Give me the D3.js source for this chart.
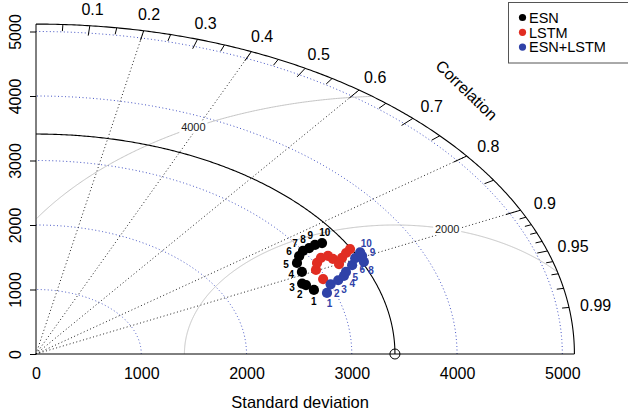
<!DOCTYPE html>
<html><head><meta charset="utf-8">
<script src="https://cdn.jsdelivr.net/npm/d3@7"></script>
<style>
body{margin:0;background:#fff}
svg{display:block}
text{font-family:"Liberation Sans",Arial,Helvetica,sans-serif}
</style>
</head><body>
<svg id="chart" width="628" height="415"></svg>
<script>
// ---------------- data ----------------
const seriesNames = ["ESN", "LSTM", "ESN+LSTM"];
const pointLabels = ["1","2","3","4","5","6","7","8","9","10"];
const esnSD    = [2821, 2779, 2754, 2829, 2853, 2924, 2998, 3071, 3144, 3216];
const esnCor   = [0.936, 0.923, 0.918, 0.893, 0.869, 0.855, 0.846, 0.845, 0.843, 0.845];
const lstmSD   = [2965, 2962, 3020, 3090, 3163, 3183, 3199, 3266, 3336, 3398];
const lstmCor  = [0.920, 0.898, 0.884, 0.876, 0.877, 0.886, 0.900, 0.890, 0.883, 0.878];
const hybSD    = [2922, 3000, 3090, 3166, 3208, 3304, 3377, 3427, 3450, 3460];
const hybCor   = [0.946, 0.933, 0.929, 0.924, 0.918, 0.909, 0.898, 0.909, 0.898, 0.890];
const refSD = 3410;
const sdTicks = [0, 1000, 2000, 3000, 4000, 5000];
const corLabels = [0.1, 0.2, 0.3, 0.4, 0.5, 0.6, 0.7, 0.8, 0.9, 0.95, 0.99];
const radialCors = [0.2, 0.4, 0.6, 0.8, 0.9];
const bigTickCors = [0.1, 0.2, 0.3, 0.4, 0.5, 0.6, 0.7, 0.8, 0.9];
const medTickCors = [0.05, 0.15, 0.25, 0.35, 0.45, 0.55, 0.65, 0.75, 0.85, 0.95];
const smlTickCors = [0.91, 0.92, 0.93, 0.94, 0.96, 0.97, 0.98, 0.99];
const gammaLevels = [2000, 4000];

// ---------------- setup ----------------
const colors = ["#000000", "#e12d22", "#2f42a8"];
const maxsd = 1.5 * refSD;
const svg = d3.select("#chart");
const x = d3.scaleLinear().domain([0, 5000]).range([36, 562.3]);
const y = d3.scaleLinear().domain([0, 5000]).range([354, 31.5]);
const P = (sx, sy) => [x(sx), y(sy)];
const polar = (r, c) => P(r * c, r * Math.sqrt(1 - c * c));
const line = d3.line();
const FS = 16;

function quarterArc(r) {
  const a = d3.range(0, Math.PI / 2, 0.005).concat([Math.PI / 2]);
  return line(a.map(t => P(r * Math.cos(t), r * Math.sin(t))));
}

// sd arcs (blue dotted)
svg.append("g").selectAll("path").data(sdTicks.filter(d => d > 0)).join("path")
  .attr("d", d => quarterArc(d)).attr("fill", "none")
  .attr("stroke", "#4252c4").attr("stroke-width", 1).attr("stroke-dasharray", "1,2.5");

// radial correlation lines
svg.append("g").selectAll("line").data(radialCors).join("line")
  .attr("x1", x(0)).attr("y1", y(0))
  .attr("x2", d => polar(maxsd, d)[0]).attr("y2", d => polar(maxsd, d)[1])
  .attr("stroke", "#222").attr("stroke-width", 1).attr("stroke-dasharray", "1,2.5");

// gamma (centered RMS) contours
const gG = svg.append("g");
gammaLevels.forEach((g, gi) => {
  const ang = d3.range(0, Math.PI, 0.004);
  const pts = ang.map(t => [refSD + g * Math.cos(t), g * Math.sin(t)])
    .filter(p => p[0] >= 0 && p[0] * p[0] + p[1] * p[1] <= maxsd * maxsd);
  gG.append("path").attr("d", line(pts.map(p => P(p[0], p[1]))))
    .attr("fill", "none").attr("stroke", "#c4c4c4").attr("stroke-width", 1);
  const idx = gammaLevels.length > 1 ? 45 + (70 - 45) * gi / (gammaLevels.length - 1) : 45;
  const t = (idx - 1) * 0.03;
  const lp = P(refSD + g * Math.cos(t), g * Math.sin(t));
  gG.append("rect").attr("x", lp[0] - 14).attr("y", lp[1] - 6).attr("width", 28).attr("height", 12).attr("fill", "#fff");
  gG.append("text").attr("x", lp[0]).attr("y", lp[1]).attr("dy", "0.36em")
    .attr("text-anchor", "middle").attr("font-size", 11).attr("fill", "#222").text(g);
});

// outer arc, reference arc
svg.append("path").attr("d", quarterArc(maxsd)).attr("fill", "none").attr("stroke", "#000").attr("stroke-width", 1.1);
svg.append("path").attr("d", quarterArc(refSD)).attr("fill", "none").attr("stroke", "#000").attr("stroke-width", 1.1);

// correlation ticks
function ticks(list, frac) {
  svg.append("g").selectAll("line").data(list).join("line")
    .attr("x1", d => polar(maxsd, d)[0]).attr("y1", d => polar(maxsd, d)[1])
    .attr("x2", d => polar(maxsd * frac, d)[0]).attr("y2", d => polar(maxsd * frac, d)[1])
    .attr("stroke", "#000").attr("stroke-width", 1);
}
ticks(bigTickCors, 0.97);
ticks(medTickCors, 0.98);
ticks(smlTickCors, 0.987);

// correlation labels
svg.append("g").selectAll("text").data(corLabels).join("text")
  .attr("x", d => polar(maxsd * 1.05, d)[0]).attr("y", d => polar(maxsd * 1.05, d)[1])
  .attr("dy", "0.36em").attr("text-anchor", "middle").attr("font-size", FS).text(d => d);
const cp = P(maxsd * 0.8, maxsd * 0.8);
svg.append("text").attr("transform", `translate(${cp[0]},${cp[1]}) rotate(44)`)
  .attr("dy", "0.36em").attr("text-anchor", "middle").attr("font-size", FS).text("Correlation");

// axes
const xAxis = svg.append("g").attr("transform", `translate(0,${y(0)})`)
  .call(d3.axisBottom(x).tickValues(sdTicks).tickSize(0).tickFormat(d3.format("d")));
xAxis.select(".domain").remove();
xAxis.selectAll("text").attr("y", 25).attr("dy", 0).attr("font-size", FS).attr("font-family", null);
const yAxis = svg.append("g").attr("transform", `translate(${x(0)},0)`)
  .call(d3.axisLeft(y).tickValues(sdTicks).tickSize(6).tickFormat(d3.format("d")));
yAxis.select(".domain").remove();
yAxis.selectAll("text").attr("x", 0).attr("dy", 0).attr("text-anchor", "middle")
  .attr("transform", "translate(-15,0) rotate(-90)").attr("font-size", FS).attr("font-family", null);
svg.append("line").attr("x1", x(0)).attr("y1", y(0)).attr("x2", x(maxsd)).attr("y2", y(0)).attr("stroke", "#000");
svg.append("line").attr("x1", x(0)).attr("y1", y(0)).attr("x2", x(0)).attr("y2", y(maxsd)).attr("stroke", "#000");
svg.append("text").attr("x", (x(0) + x(5000)) / 2 + 1).attr("y", 408).attr("text-anchor", "middle")
  .attr("font-size", 16.5).text("Standard deviation");

// reference point
svg.append("circle").attr("cx", x(refSD)).attr("cy", y(0)).attr("r", 5)
  .attr("fill", "none").attr("stroke", "#000").attr("stroke-width", 1);

// model points
const series = [
  {sd: esnSD, cor: esnCor, color: colors[0]},
  {sd: lstmSD, cor: lstmCor, color: colors[1]},
  {sd: hybSD, cor: hybCor, color: colors[2]}
];
series.forEach(s => s.pts = s.sd.map((v, i) => polar(v, s.cor[i])));
const all = series.flatMap(s => s.pts);
const G = [d3.mean(all, p => p[0]), d3.mean(all, p => p[1])];
const unit = v => { const n = Math.hypot(v[0], v[1]) || 1; return [v[0] / n, v[1] / n]; };

// label direction: normal to the chain of points, on the side away from the cluster centre
function labelPos(pts, i, dist) {
  const p = pts[i], n = pts.length;
  let t, endExt = null;
  if (i === 0) { t = [p[0] - pts[1][0], p[1] - pts[1][1]]; endExt = unit(t); }
  else if (i === n - 1) { t = [p[0] - pts[n - 2][0], p[1] - pts[n - 2][1]]; endExt = unit(t); }
  else t = [pts[i + 1][0] - pts[i - 1][0], pts[i + 1][1] - pts[i - 1][1]];
  let nrm = unit([t[1], -t[0]]);
  const away = unit([p[0] - G[0], p[1] - G[1]]);
  if (nrm[0] * away[0] + nrm[1] * away[1] < 0) nrm = [-nrm[0], -nrm[1]];
  let d = endExt ? unit([nrm[0] + endExt[0], nrm[1] + endExt[1]]) : nrm;
  d = unit([d[0] + 0.5 * away[0], d[1] + 0.5 * away[1]]);
  return [p[0] + dist * d[0], p[1] + dist * d[1]];
}

function drawDots(s) {
  svg.append("g").selectAll("circle").data(s.pts).join("circle")
    .attr("cx", p => p[0]).attr("cy", p => p[1]).attr("r", 5.1).attr("fill", s.color);
}
function drawLabels(s) {
  const lp = s.pts.map((p, i) => labelPos(s.pts, i, 11));
  svg.append("g").selectAll("text").data(lp).join("text")
    .attr("x", p => p[0]).attr("y", p => p[1])
    .attr("dy", "0.36em").attr("text-anchor", "middle").attr("font-size", 10).attr("font-weight", "bold")
    .attr("fill", s.color).text((p, i) => pointLabels[i]);
}
drawDots(series[0]); drawLabels(series[0]);
drawLabels(series[2]);
drawDots(series[1]);
drawDots(series[2]);

// legend
const lg = svg.append("g");
lg.append("rect").attr("x", 508.5).attr("y", 2.5).attr("width", 140).attr("height", 60.5)
  .attr("fill", "#fff").attr("stroke", "#555").attr("stroke-width", 1);
seriesNames.forEach((n, i) => {
  const yy = 17.5 + i * 14.8;
  lg.append("circle").attr("cx", 522.5).attr("cy", yy).attr("r", 3.6).attr("fill", colors[i]);
  lg.append("text").attr("x", 529).attr("y", yy).attr("dy", "0.36em").attr("font-size", 14.5).text(n);
});
</script>
</body></html>
